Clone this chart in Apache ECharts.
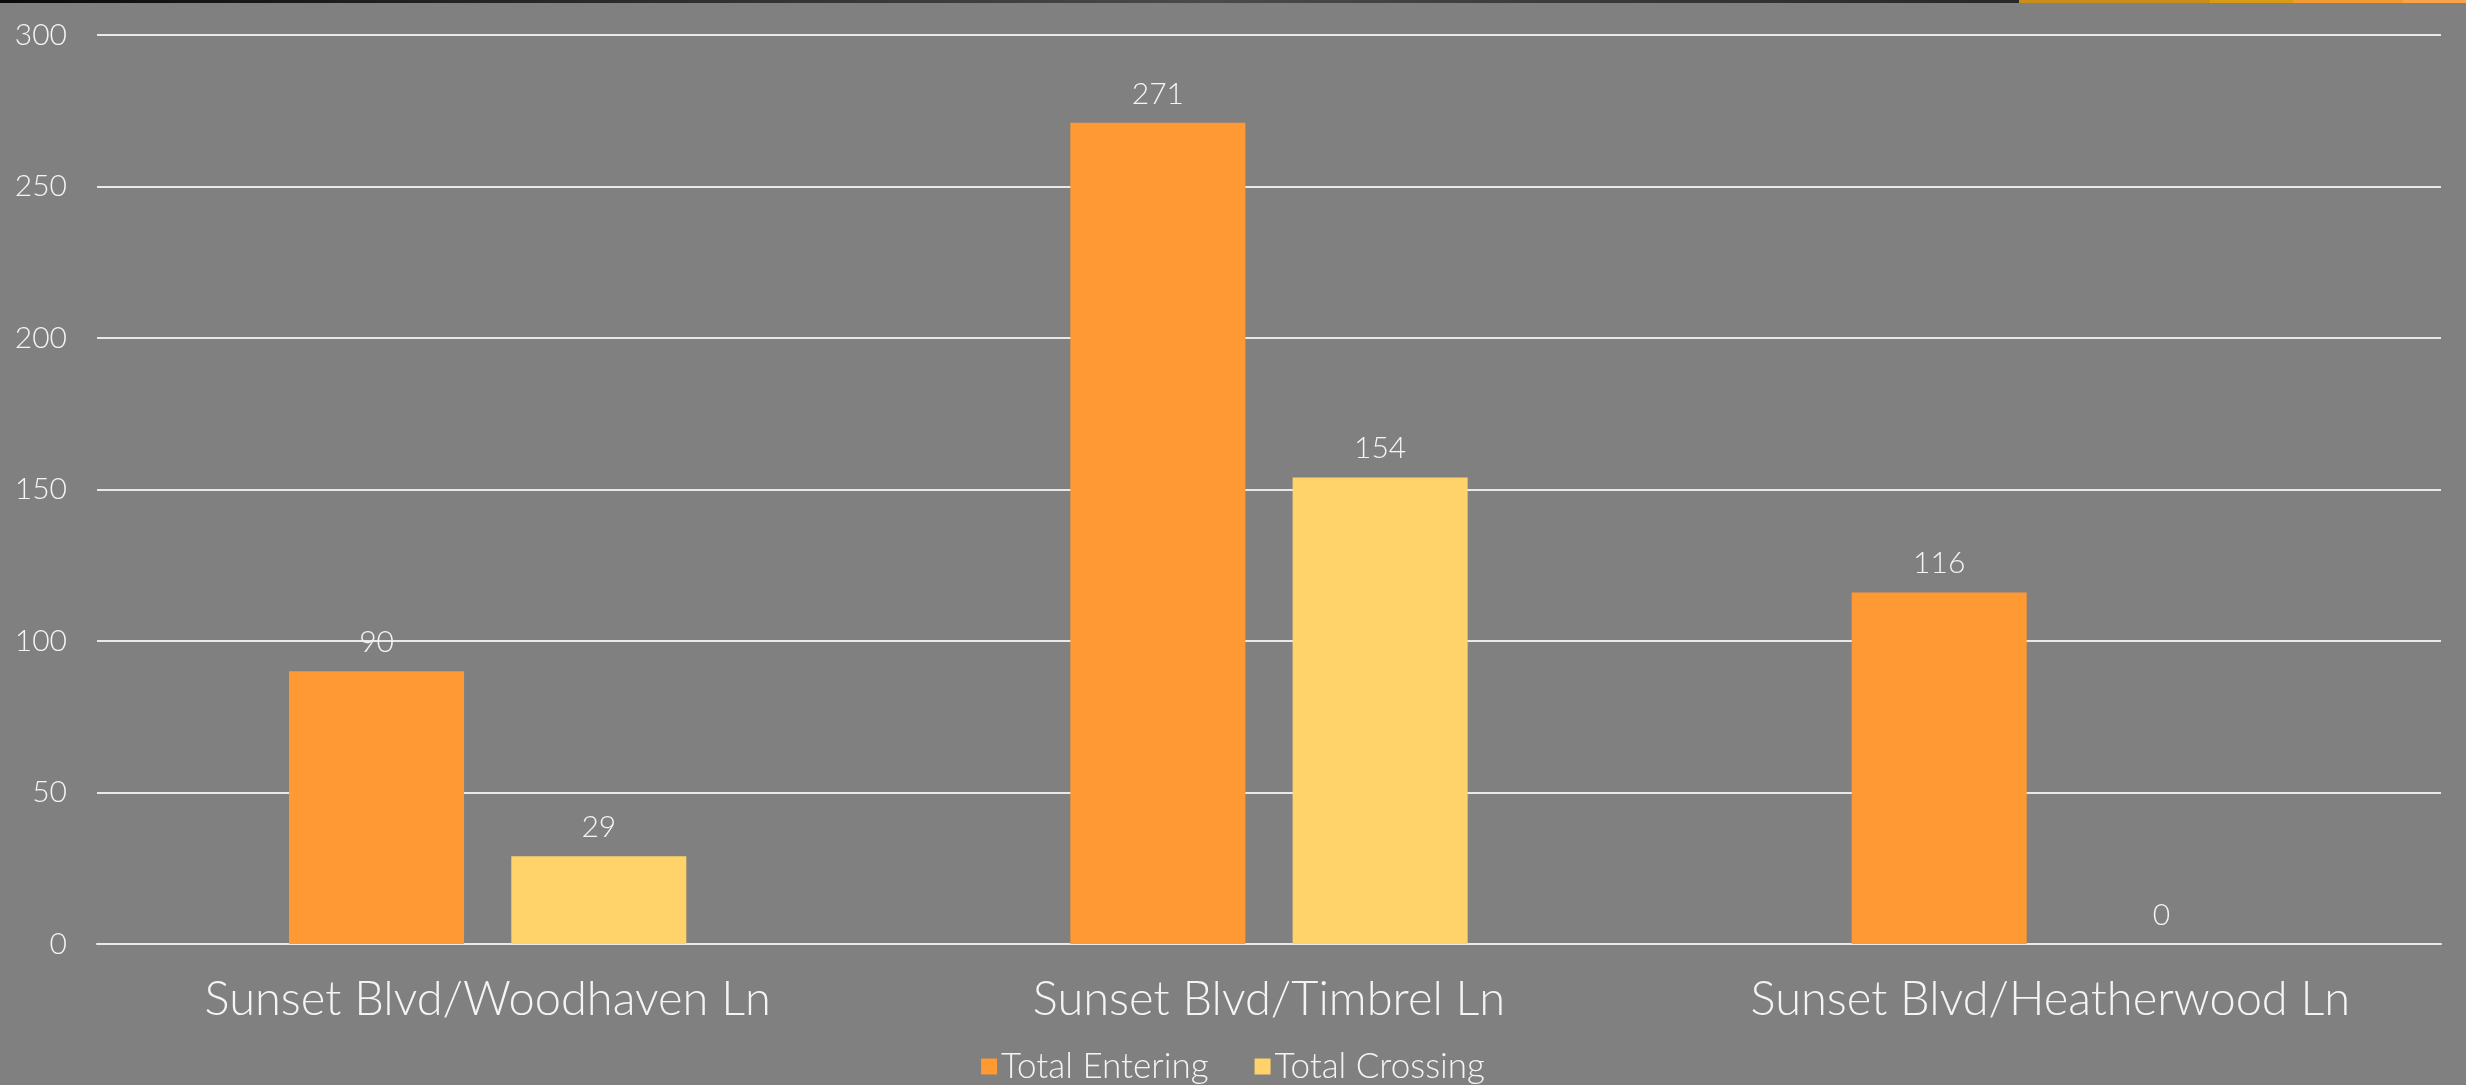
<!DOCTYPE html>
<html>
<head>
<meta charset="utf-8">
<title>Intersection volumes</title>
<script src="https://cdn.jsdelivr.net/npm/echarts@6/dist/echarts.min.js"></script>
<style>
  html, body { margin: 0; padding: 0; background: #808080; }
  #chart { width: 2466px; height: 1085px; }
</style>
</head>
<body>
<div id="chart"></div>
<script>
// Intersections along Sunset Blvd
const categories = ['Sunset Blvd/Woodhaven Ln', 'Sunset Blvd/Timbrel Ln', 'Sunset Blvd/Heatherwood Ln'];
const seriesNames = ['Total Entering', 'Total Crossing'];
const totalEntering = [90, 271, 116];
const totalCrossing = [29, 154, 0];
const yTicks = [0, 50, 100, 150, 200, 250, 300];

const FONT = 'Lato, "Open Sans", "Noto Sans", sans-serif';
const TEXT = '#f4f4f4';
const GRID = '#e9e9e9';

const chart = echarts.init(document.getElementById('chart'), null, { renderer: 'canvas' });

const barLabel = {
  show: true,
  position: 'top',
  distance: 14,
  color: TEXT,
  fontFamily: FONT,
  fontWeight: 300,
  fontSize: 30
};

chart.setOption({
  backgroundColor: '#808080',
  animation: false,
  graphic: [
    // thin decorative band along the top edge
    { type: 'rect', left: 0, top: 0, shape: { width: 2019, height: 3 },
      style: { fill: new echarts.graphic.LinearGradient(0, 0, 1, 0, [
        { offset: 0, color: '#0b0b0b' },
        { offset: 0.6, color: '#4a4a4a' },
        { offset: 1, color: '#272727' }
      ]) }, silent: true },
    { type: 'rect', left: 2019, top: 0, shape: { width: 191, height: 3 }, style: { fill: '#c98d1b' }, silent: true },
    { type: 'rect', left: 2210, top: 0, shape: { width: 83, height: 3 }, style: { fill: '#d99a16' }, silent: true },
    { type: 'rect', left: 2293, top: 0, shape: { width: 110, height: 3 }, style: { fill: '#f29a33' }, silent: true },
    { type: 'rect', left: 2403, top: 0, shape: { width: 63, height: 3 }, style: { fill: '#f9a448' }, silent: true }
  ],
  grid: { left: 97, right: 25, top: 35, bottom: 141, containLabel: false },
  legend: {
    data: seriesNames,
    top: 1049,
    left: 'center',
    padding: 0,
    itemWidth: 16,
    itemHeight: 16,
    itemGap: 46,
    icon: 'rect',
    textStyle: { color: TEXT, fontFamily: FONT, fontWeight: 300, fontSize: 35, padding: [0, 0, 0, -1] }
  },
  xAxis: {
    type: 'category',
    data: categories,
    axisLine: { show: true, lineStyle: { color: GRID, width: 2 } },
    axisTick: { show: false },
    axisLabel: { color: TEXT, fontFamily: FONT, fontWeight: 300, fontSize: 47, margin: 32 },
    splitLine: { show: false }
  },
  yAxis: {
    type: 'value',
    min: yTicks[0],
    max: yTicks[yTicks.length - 1],
    interval: yTicks[1] - yTicks[0],
    axisLine: { show: false },
    axisTick: { show: false },
    axisLabel: { color: TEXT, fontFamily: FONT, fontWeight: 300, fontSize: 30, margin: 30 },
    splitLine: { show: true, lineStyle: { color: GRID, width: 2 } }
  },
  series: [
    {
      name: seriesNames[0],
      type: 'bar',
      data: totalEntering,
      barWidth: '22.4%',
      barGap: '27%',
      itemStyle: { color: '#ff9933' },
      label: barLabel
    },
    {
      name: seriesNames[1],
      type: 'bar',
      data: totalCrossing,
      barWidth: '22.4%',
      itemStyle: { color: '#ffd369' },
      label: barLabel
    }
  ]
});
</script>
</body>
</html>
